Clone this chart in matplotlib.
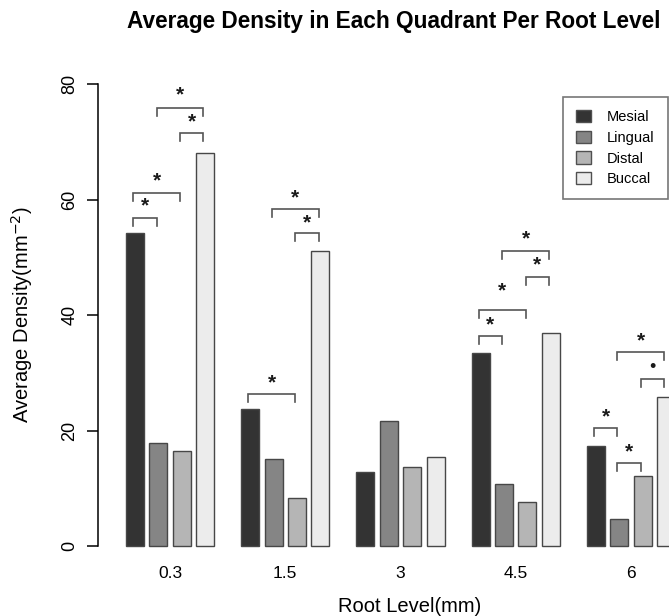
import matplotlib.pyplot as plt
from matplotlib.patches import Patch

plt.rcParams['font.family'] = ['Liberation Sans', 'DejaVu Sans']

# data
levels = ['0.3', '1.5', '3', '4.5', '6']
quadrants = ['Mesial', 'Lingual', 'Distal', 'Buccal']
mesial = [54.3, 23.8, 12.9, 33.4, 17.3]
lingual = [17.8, 15.1, 21.7, 10.7, 4.6]
distal = [16.4, 8.4, 13.7, 7.6, 12.2]
buccal = [68.1, 51.1, 15.5, 37.0, 25.9]
colors = ['#333333', '#858585', '#b5b5b5', '#ececec']

# significance brackets: (group, bar a, bar b, bracket height, mark, mark height)
brackets = [
    (0, 0, 1, 56.9, '*', 58.9), (0, 0, 2, 61.2, '*', 63.2),
    (0, 2, 3, 71.6, '*', 73.5), (0, 1, 3, 75.9, '*', 78.1),
    (1, 0, 2, 26.3, '*', 28.2), (1, 2, 3, 54.3, '*', 56.0),
    (1, 1, 3, 58.4, '*', 60.3),
    (3, 0, 1, 36.4, '*', 38.4), (3, 0, 2, 40.9, '*', 44.2),
    (3, 2, 3, 46.6, '*', 48.8), (3, 1, 3, 51.1, '*', 53.3),
    (4, 0, 1, 20.4, '*', 22.4), (4, 1, 2, 14.4, '*', 16.3),
    (4, 2, 3, 28.9, '\u2022', 31.0), (4, 1, 3, 33.6, '*', 35.5),
]

series = [mesial, lingual, distal, buccal]
width = 1.0
inner = 1.3   # bar pitch inside a group
pitch = 6.4   # group pitch

fig = plt.figure(figsize=(6.69, 6.16), dpi=100)
ax = fig.add_axes([98 / 669, 0.1042, 571 / 669, 0.7963])

for k, vals in enumerate(series):
    xs = [g * pitch + k * inner for g in range(len(levels))]
    ax.bar(xs, vals, width=width, align='edge', color=colors[k],
           edgecolor='#474747', linewidth=1.0, label=quadrants[k])

def bar_center(g, k):
    return g * pitch + k * inner + width / 2 - 0.1

for g, a, b, h, mark, mh in brackets:
    x1, x2 = bar_center(g, a), bar_center(g, b)
    ax.plot([x1, x1, x2, x2], [h - 1.4, h, h, h - 1.4], color='#555555',
            lw=1.2, solid_joinstyle='miter')
    if mark == '*':
        ax.text((x1 + x2) / 2, mh, mark, ha='center', va='center',
                fontsize=15, fontweight='bold', color='#1a1a1a')
    else:
        ax.text((x1 + x2) / 2, mh, mark, ha='center', va='center',
                fontsize=13, color='#1a1a1a')

ax.set_xlim(-1.556, 30.17)
ax.set_ylim(-1, 84)
ax.spines[['top', 'right', 'bottom']].set_visible(False)
ax.spines['left'].set_bounds(0, 80)
ax.spines['left'].set_linewidth(1.1)
ax.set_yticks([0, 20, 40, 60, 80])
ax.set_yticklabels(['0', '20', '40', '60', '80'], rotation=90, va='center',
                   fontsize=13)
ax.tick_params(axis='y', length=8, width=1.1, pad=6)
ax.set_xticks([g * pitch + (4 * width + 3 * (inner - width)) / 2
               for g in range(len(levels))])
ax.set_xticklabels(levels, fontsize=12.5)
ax.tick_params(axis='x', length=0, pad=10)

leg = ax.legend(handles=[Patch(facecolor=c, edgecolor='#505050', label=q)
                         for c, q in zip(colors, quadrants)],
                loc='upper left', bbox_to_anchor=(563 / 669, 1 - 97 / 616),
                bbox_transform=fig.transFigure, fontsize=10.5, frameon=True,
                fancybox=False, borderpad=0.9, labelspacing=0.45,
                handlelength=1.0, handleheight=0.9, handletextpad=1.1,
                borderaxespad=0)
leg.get_frame().set_edgecolor('#555555')
leg.get_frame().set_linewidth(1.2)

fig.text(394 / 669, 1 - 28 / 616, 'Average Density in Each Quadrant Per Root Level',
         ha='center', va='baseline', fontsize=16.3, fontweight='bold')
fig.text(410 / 669, 1 - 612 / 616, 'Root Level(mm)', ha='center', va='baseline',
         fontsize=14.5)
fig.text(22 / 669, 1 - 315 / 616, 'Average Density(mm$^{-2}$)', ha='center',
         va='center', rotation=90, fontsize=14.5)

fig.savefig('out.png', dpi=100)
